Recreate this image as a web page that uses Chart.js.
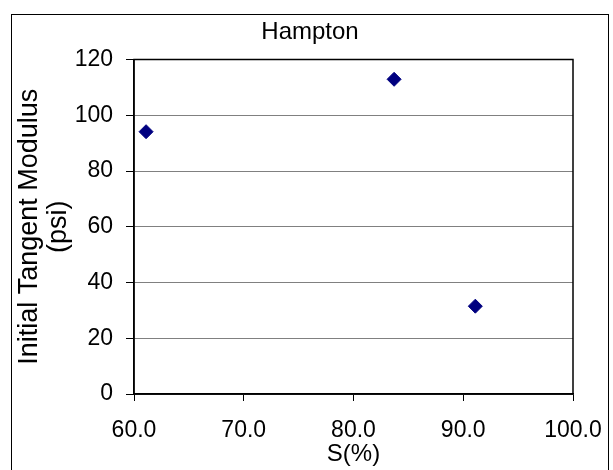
<!DOCTYPE html>
<html>
<head>
<meta charset="utf-8">
<script src="https://cdn.jsdelivr.net/npm/chart.js@4/dist/chart.umd.min.js"></script>
<style>
  html, body { margin: 0; padding: 0; background: #fff; }
  #wrap { width: 613px; height: 470px; }
</style>
</head>
<body>
<div id="wrap"><canvas id="c" width="613" height="470"></canvas></div>
<script>
// Data
const saturation = [61.1, 83.7, 91.1];        // S(%)
const modulus = [94.1, 112.9, 31.5];           // Initial Tangent Modulus (psi)
const chartTitle = 'Hampton';
const xTitle = 'S(%)';
const yTitle = ['Initial Tangent Modulus', '(psi)'];
const xTicks = [60, 70, 80, 90, 100];
const yTicks = [0, 20, 40, 60, 80, 100, 120];

const points = saturation.map((x, i) => ({ x: x, y: modulus[i] }));
const FONT = "'Liberation Sans', Arial, sans-serif";

Chart.defaults.color = '#000';
Chart.defaults.font.family = FONT;

const framePlugin = {
  id: 'frame',
  afterDraw(chart) {
    const { ctx, chartArea: a } = chart;
    ctx.save();
    // plot area box
    ctx.strokeStyle = '#000';
    ctx.lineWidth = 1.5;
    ctx.strokeRect(a.left, a.top, a.right - a.left, a.bottom - a.top);
    // outer chart border
    ctx.lineWidth = 1;
    ctx.strokeRect(11.5, 14.5, 597, 460);
    // chart title
    ctx.fillStyle = '#000';
    ctx.font = '24px ' + FONT;
    ctx.textAlign = 'center';
    ctx.textBaseline = 'middle';
    ctx.fillText(chartTitle, 310, 32);
    ctx.restore();
  }
};

new Chart(document.getElementById('c'), {
  type: 'scatter',
  data: {
    datasets: [{
      data: points,
      pointStyle: 'rectRot',
      pointRadius: 7,
      pointHoverRadius: 7,
      backgroundColor: '#000080',
      borderColor: '#000080',
      borderWidth: 1
    }]
  },
  options: {
    responsive: false,
    animation: false,
    events: [],
    layout: { autoPadding: false, padding: { left: 0, right: 40, top: 59.5, bottom: 0 } },
    plugins: {
      legend: { display: false },
      tooltip: { enabled: false },
      title: { display: false }
    },
    scales: {
      x: {
        type: 'linear',
        min: xTicks[0],
        max: xTicks[xTicks.length - 1],
        afterBuildTicks(scale) { scale.ticks = xTicks.map(v => ({ value: v })); },
        afterFit(scale) { scale.height = 76; scale.paddingLeft = 0; scale.paddingRight = 0; },
        ticks: {
          callback: v => Number(v).toFixed(1),
          font: { size: 23, family: FONT },
          color: '#000',
          padding: 16,
          maxRotation: 0
        },
        grid: {
          drawOnChartArea: false,
          drawTicks: true,
          tickLength: 7,
          tickColor: '#000',
          tickWidth: 1
        },
        border: { display: true, color: '#000', width: 1.5 },
        title: {
          display: true,
          text: xTitle,
          color: '#000',
          font: { size: 24, family: FONT },
          padding: { top: 0, bottom: 1.5 }
        }
      },
      y: {
        type: 'linear',
        min: yTicks[0],
        max: yTicks[yTicks.length - 1],
        afterBuildTicks(scale) { scale.ticks = yTicks.map(v => ({ value: v })); },
        afterFit(scale) { scale.width = 134; },
        ticks: {
          font: { size: 23, family: FONT },
          color: '#000',
          padding: 13
        },
        grid: {
          color: '#808080',
          lineWidth: 1,
          drawTicks: true,
          tickLength: 8,
          tickColor: '#000',
          tickWidth: 1
        },
        border: { display: true, color: '#000', width: 1.5 },
        title: {
          display: true,
          text: yTitle,
          color: '#000',
          font: { size: 27, family: FONT, lineHeight: 1.074 },
          padding: { top: 15.5, bottom: 0 }
        }
      }
    }
  },
  plugins: [framePlugin]
});
</script>
</body>
</html>
